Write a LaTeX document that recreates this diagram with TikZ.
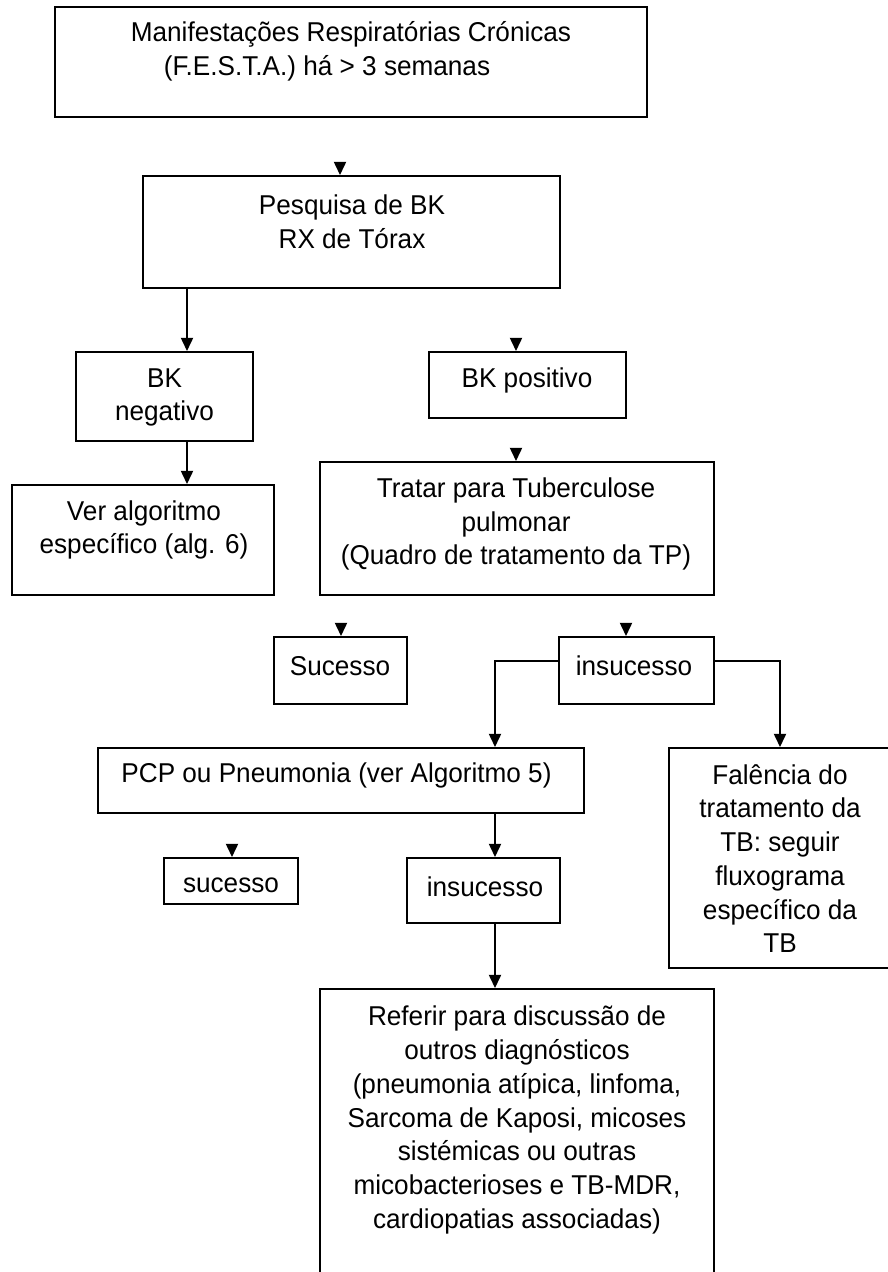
\documentclass[tikz,border=0pt]{standalone}
\usepackage{fontspec}
\setmainfont{Liberation Sans}[FakeStretch=0.96]
\usetikzlibrary{arrows.meta}

\tikzset{
  box/.style = {draw, black, line width=1.2pt, inner sep=0pt},
  txt/.style = {align=center, inner sep=0pt, font=\fontsize{15.5}{19.2}\selectfont},
  arr/.style = {black, line width=0.7pt, -{Triangle[width=7pt,length=7.5pt]}}
}

\begin{document}
\begin{tikzpicture}[x=0.02cm, y=-0.02cm]
                \useasboundingbox (0,0) rectangle (887,1272);
                % caixas
                \node[box, minimum width=11.84cm, minimum height=2.2cm] (top) at (351,62) {};
                \node[box, minimum width=8.34cm, minimum height=2.24cm] (pesq) at (351.5,232) {};
                \node[box, minimum width=3.54cm, minimum height=1.78cm] (neg) at (164.5,396.5) {};
                \node[box, minimum width=3.94cm, minimum height=1.32cm] (pos) at (527.5,385) {};
                \node[box, minimum width=5.24cm, minimum height=2.2cm] (ver) at (143,540) {};
                \node[box, minimum width=7.88cm, minimum height=2.66cm] (trat) at (517,528.5) {};
                \node[box, minimum width=2.66cm, minimum height=1.34cm] (suc) at (340.5,670.5) {};
                \node[box, minimum width=3.1cm, minimum height=1.34cm] (insuc) at (636.5,670.5) {};
                \node[box, minimum width=9.72cm, minimum height=1.3cm] (pcp) at (341,780.5) {};
                \node[box, minimum width=4.42cm, minimum height=4.4cm] (fal) at (779.5,858) {};
                \node[box, minimum width=2.68cm, minimum height=0.92cm] (suctwo) at (231,881) {};
                \node[box, minimum width=3.06cm, minimum height=1.3cm] (insuctwo) at (483.5,890.5) {};
                \node[box, minimum width=7.88cm, minimum height=6.02cm] (ref) at (517,1139.5) {};

                % textos
                \node[txt] (ttop) at (351,51.5) {Manifestações Respiratórias Crónicas\\(F.E.S.T.A.) há > 3 semanas\hspace*{0.96cm}};
                \node[txt] (tpesq) at (352,221.5) {Pesquisa de BK\\RX de Tórax};
                \node[txt] (tneg) at (164.5,397.5) {BK\\negativo};
                \node[txt] (tpos) at (527,380) {BK positivo};
                \node[txt] (tver) at (144,530) {Ver algoritmo\\específico (alg. 6)};
                \node[txt] (ttrat) at (516,524) {Tratar para Tuberculose\\pulmonar\\(Quadro de tratamento da TP)};
                \node[txt] (tsuc) at (340,666) {Sucesso};
                \node[txt] (tinsuc) at (634,666) {insucesso};
                \node[txt] (tpcp) at (336.5,775) {PCP ou Pneumonia (ver Algoritmo 5)};
                \node[txt] (tfal) at (780,858.5) {Falência do\\tratamento da\\TB: seguir\\fluxograma\\específico da\\TB};
                \node[txt] (tsuctwo) at (231,885) {sucesso};
                \node[txt] (tinsuctwo) at (485,887) {insucesso};
                \node[txt] (tref) at (517,1120) {Referir para discussão de\\outros diagnósticos\\(pneumonia atípica, linfoma,\\Sarcoma de Kaposi, micoses\\sistémicas ou outras\\micobacterioses e TB-MDR,\\cardiopatias associadas)};

                % setas
                \coordinate (ca) at (187,0);
                \coordinate (cb) at (495,661);
                \coordinate (cc) at (780,661);
                \draw[arr] (ca |- pesq.south) -- (ca |- neg.north);
                \draw[arr] (ca |- neg.south) -- (ca |- ver.north);
                \draw[arr] (cb -| insuc.west) -- (cb) -- (cb |- pcp.north);
                \draw[arr] (cc -| insuc.east) -- (cc) -- (cc |- fal.north);
                \draw[arr] (cb |- pcp.south) -- (cb |- insuctwo.north);
                \draw[arr] (cb |- insuctwo.south) -- (cb |- ref.north);

                % pontas soltas
                \coordinate (pa) at (340,163);
                \coordinate (pb) at (516,339);
                \coordinate (pc) at (516,449);
                \coordinate (pd) at (341,624);
                \coordinate (pe) at (626,624);
                \coordinate (pf) at (232,845);
                \draw[arr] (pa) -- (pa |- pesq.north);
                \draw[arr] (pb) -- (pb |- pos.north);
                \draw[arr] (pc) -- (pc |- trat.north);
                \draw[arr] (pd) -- (pd |- suc.north);
                \draw[arr] (pe) -- (pe |- insuc.north);
                \draw[arr] (pf) -- (pf |- suctwo.north);
\end{tikzpicture}
\end{document}
